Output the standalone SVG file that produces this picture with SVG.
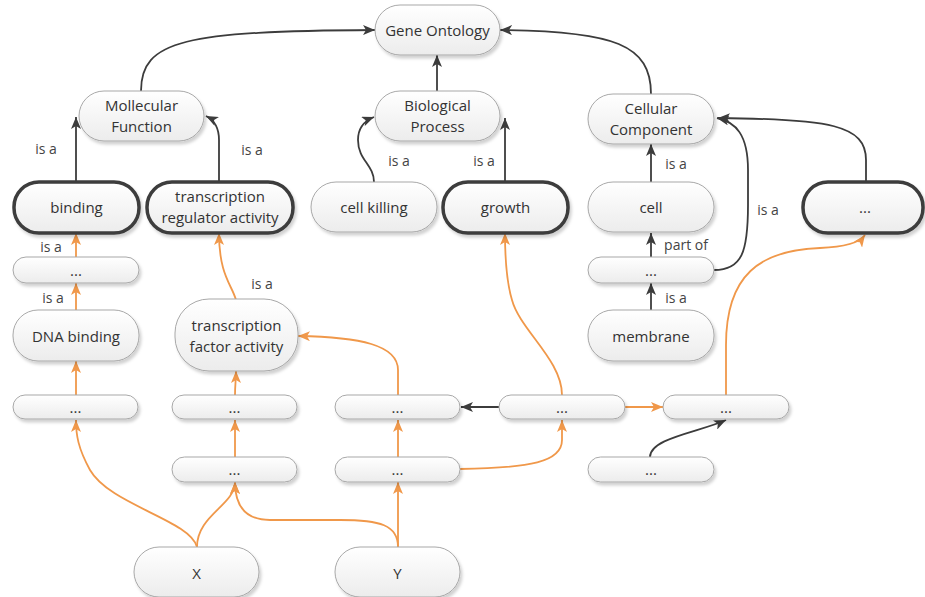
<svg xmlns="http://www.w3.org/2000/svg" width="925" height="597" viewBox="0 0 925 597">
<defs>
<linearGradient id="g" x1="0" y1="0" x2="0" y2="1">
<stop offset="0" stop-color="#ffffff"/>
<stop offset="1" stop-color="#ececec"/>
</linearGradient>
<filter id="sh" x="-10%" y="-20%" width="120%" height="150%">
<feDropShadow dx="2" dy="3" stdDeviation="1.5" flood-color="#000" flood-opacity="0.18"/>
</filter>
<marker id="ab" viewBox="0 0 12 10" refX="12" refY="5" markerWidth="12" markerHeight="10" markerUnits="userSpaceOnUse" orient="auto">
<path d="M0,0 L12,5 L0,10 L3,5 Z" fill="#3c3c3c"/>
</marker>
<marker id="ao" viewBox="0 0 12 10" refX="12" refY="5" markerWidth="12" markerHeight="10" markerUnits="userSpaceOnUse" orient="auto">
<path d="M0,0 L12,5 L0,10 L3,5 Z" fill="#f0984a"/>
</marker>
</defs>
<style>
.n rect{fill:url(#g);stroke:#a8a8a8;stroke-width:1;filter:url(#sh)}
.n.b rect{stroke:#3c3c3c;stroke-width:3.5}
.n text{font-family:"Open Sans","Liberation Sans",sans-serif;font-size:15px;fill:#333;text-anchor:middle;dominant-baseline:central}
.k{fill:none;stroke:#3c3c3c;stroke-width:1.8;marker-end:url(#ab)}
.o{fill:none;stroke:#f0984a;stroke-width:1.8;marker-end:url(#ao)}
.l{font-family:"Open Sans","Liberation Sans",sans-serif;font-size:14px;fill:#444;text-anchor:middle;dominant-baseline:central}
</style>
<rect width="925" height="597" fill="#ffffff"/>

<g id="connectors">
<path class="k" d="M141,91 C141,40 185,31 375,30"/>
<path class="k" d="M437,91 L437,55"/>
<path class="k" d="M651,94 C651,45 615,31 500,30"/>
<path class="k" d="M76,182 L76,117"/>
<path class="k" d="M219,182 L219,140 C219,128 214,120 206,116"/>
<path class="k" d="M374,182 C374,165 358,160 358,140 C358,128 364,121 374,117"/>
<path class="k" d="M505,182 L505,118"/>
<path class="k" d="M651,182 L651,144"/>
<path class="k" d="M651,257 L651,233"/>
<path class="k" d="M651,310 L651,283"/>
<path class="k" d="M714,270 C742,270 748,252 748,205 L748,170 C748,135 736,122 717,118"/>
<path class="k" d="M866,182 L866,160 C866,125 830,119 718,118"/>
<path class="k" d="M499,407 L461,407"/>
<path class="k" d="M650,457 C650,438 700,432 726,420"/>

<path class="o" d="M76,257 L76,233"/>
<path class="o" d="M76,310 L76,283"/>
<path class="o" d="M76,395 L76,361"/>
<path class="o" d="M197,547 C190,520 110,505 90,470 C78,448 76,435 76,420"/>
<path class="o" d="M197,547 C197,515 235,505 235,482"/>
<path class="o" d="M398,547 C398,525 380,520 340,520 L270,520 C245,520 235,505 235,482"/>
<path class="o" d="M398,547 L398,482"/>
<path class="o" d="M235,457 L235,420"/>
<path class="o" d="M235,395 C235,385 236,380 236,371"/>
<path class="o" d="M398,457 L398,420"/>
<path class="o" d="M398,395 L398,370 C398,345 360,337 298,336"/>
<path class="o" d="M236,300 C232,285 219,275 219,233"/>
<path class="o" d="M460,469 C530,468 562,462 562,440 L562,420"/>
<path class="o" d="M562,395 C562,360 520,330 512,300 C506,280 505,255 505,233"/>
<path class="o" d="M625,407 L663,407"/>
<path class="o" d="M726,395 L726,345 C726,275 760,250 820,248 C845,247 860,242 865,235"/>

<text class="l" x="46" y="148">is a</text>
<text class="l" x="252" y="149">is a</text>
<text class="l" x="51" y="246">is a</text>
<text class="l" x="53" y="297">is a</text>
<text class="l" x="262" y="283">is a</text>
<text class="l" x="399" y="160">is a</text>
<text class="l" x="484" y="160">is a</text>
<text class="l" x="676" y="163">is a</text>
<text class="l" x="768" y="209">is a</text>
<text class="l" x="686" y="244">part of</text>
<text class="l" x="676" y="297">is a</text>
</g>

<g id="n-go" class="n"><rect x="375" y="5" width="125" height="50" rx="25"/><text x="437.5" y="30">Gene Ontology</text></g>
<g id="n-mf" class="n"><rect x="79" y="91" width="125" height="50" rx="25"/><text x="141.5" y="105">Mollecular</text><text x="141.5" y="126">Function</text></g>
<g id="n-bp" class="n"><rect x="375" y="91" width="125" height="50" rx="25"/><text x="437.5" y="105">Biological</text><text x="437.5" y="126">Process</text></g>
<g id="n-cc" class="n"><rect x="588" y="94" width="126" height="50" rx="25"/><text x="651" y="108">Cellular</text><text x="651" y="129">Component</text></g>

<g id="n-binding" class="n b"><rect x="14" y="182" width="125" height="51" rx="25"/><text x="76.5" y="207">binding</text></g>
<g id="n-trreg" class="n b"><rect x="147" y="182" width="146" height="51" rx="25"/><text x="220" y="196">transcription</text><text x="220" y="217">regulator activity</text></g>
<g id="n-killing" class="n"><rect x="311" y="182" width="126" height="50" rx="25"/><text x="374" y="207">cell killing</text></g>
<g id="n-growth" class="n b"><rect x="443" y="182" width="125" height="51" rx="25"/><text x="505.5" y="207">growth</text></g>
<g id="n-cell" class="n"><rect x="588" y="182" width="126" height="50" rx="25"/><text x="651" y="207">cell</text></g>
<g id="n-dots-top" class="n b"><rect x="803" y="182" width="120" height="51" rx="25"/><text x="865" y="207">...</text></g>

<g id="n-d1" class="n"><rect x="13" y="257" width="126" height="26" rx="13"/><text x="76" y="270">...</text></g>
<g id="n-d2" class="n"><rect x="588" y="257" width="126" height="26" rx="13"/><text x="651" y="270">...</text></g>

<g id="n-dna" class="n"><rect x="13" y="310" width="126" height="51" rx="25"/><text x="76" y="336">DNA binding</text></g>
<g id="n-tf" class="n"><rect x="175" y="299" width="123" height="72" rx="34"/><text x="236.5" y="325">transcription</text><text x="236.5" y="346">factor activity</text></g>
<g id="n-membrane" class="n"><rect x="588" y="310" width="126" height="51" rx="25"/><text x="651" y="336">membrane</text></g>

<g id="n-d3" class="n"><rect x="13" y="395" width="125" height="24" rx="12"/><text x="75.5" y="407">...</text></g>
<g id="n-d4" class="n"><rect x="172" y="395" width="125" height="24" rx="12"/><text x="234.5" y="407">...</text></g>
<g id="n-d5" class="n"><rect x="335" y="395" width="125" height="24" rx="12"/><text x="397.5" y="407">...</text></g>
<g id="n-d6" class="n"><rect x="499" y="395" width="126" height="24" rx="12"/><text x="562" y="407">...</text></g>
<g id="n-d7" class="n"><rect x="663" y="395" width="126" height="24" rx="12"/><text x="726" y="407">...</text></g>

<g id="n-d8" class="n"><rect x="172" y="457" width="125" height="25" rx="12.5"/><text x="234.5" y="469">...</text></g>
<g id="n-d9" class="n"><rect x="335" y="457" width="125" height="25" rx="12.5"/><text x="397.5" y="469">...</text></g>
<g id="n-d10" class="n"><rect x="588" y="457" width="126" height="25" rx="12.5"/><text x="651" y="469">...</text></g>

<g id="n-x" class="n"><rect x="134" y="547" width="125" height="50" rx="25"/><text x="196.5" y="573">X</text></g>
<g id="n-y" class="n"><rect x="335" y="547" width="125" height="50" rx="25"/><text x="397.5" y="573">Y</text></g>
</svg>
